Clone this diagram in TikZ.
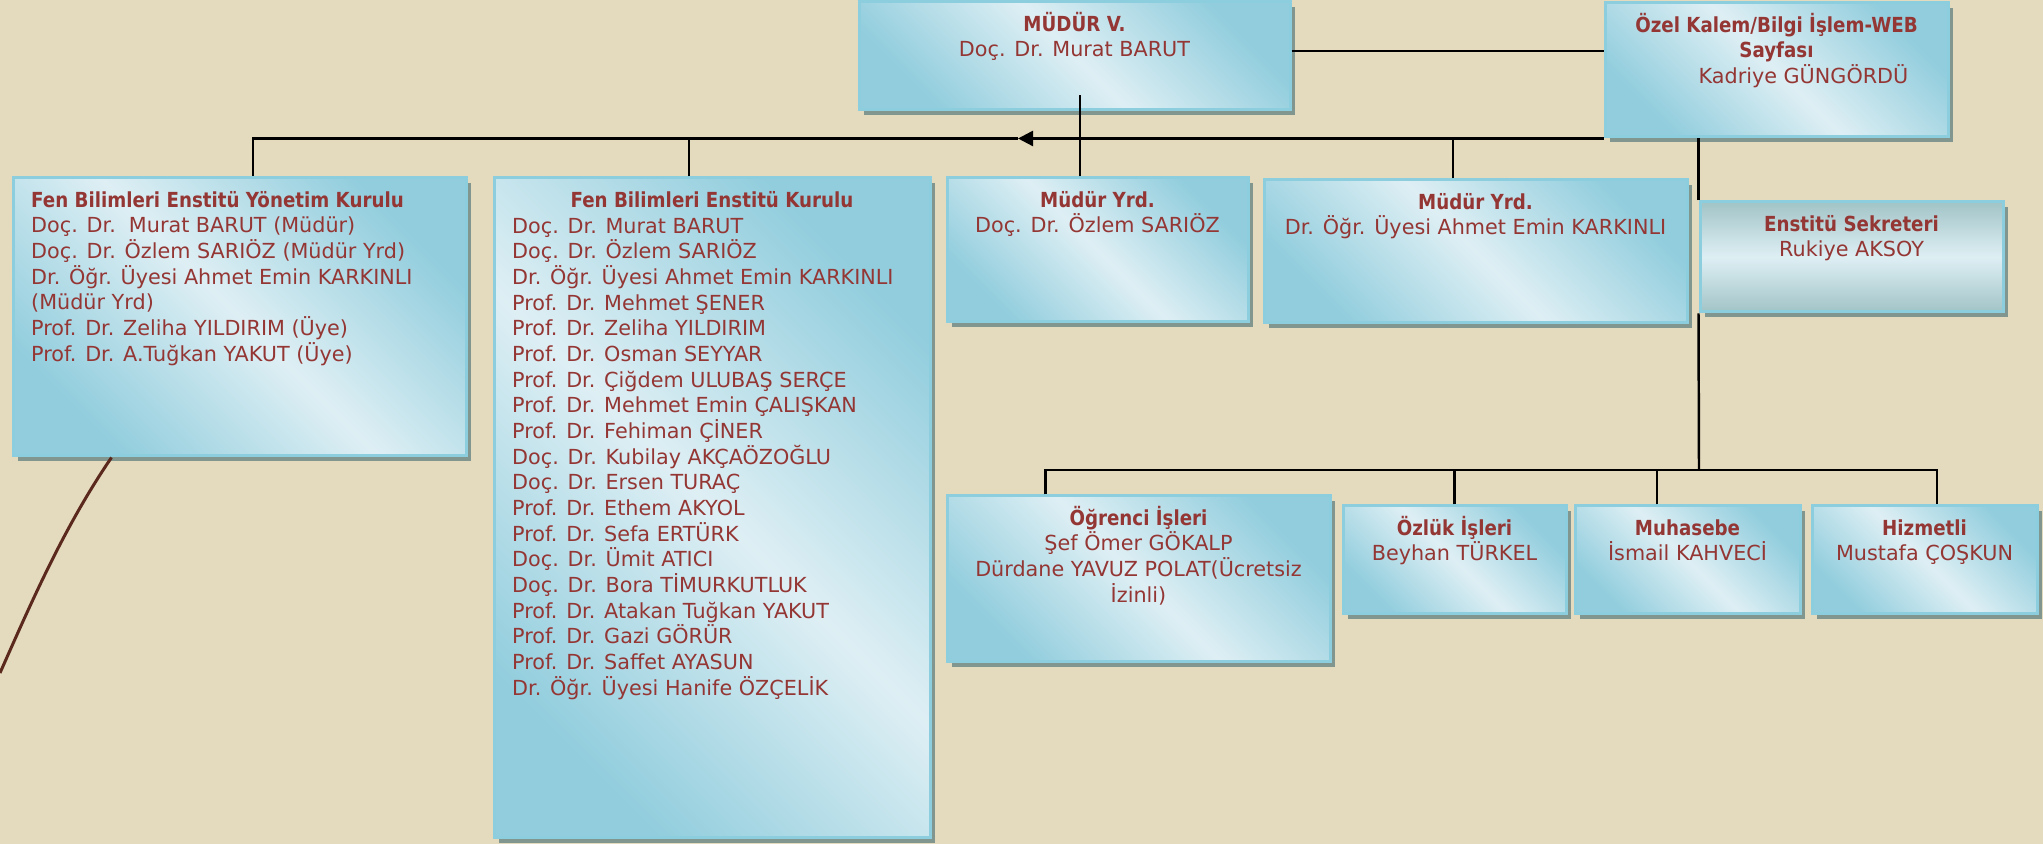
\documentclass[tikz,border=0pt]{standalone}
\usepackage{fontspec}
\setmainfont{DejaVu Sans}[BoldFeatures={FakeStretch=0.88}]
\usetikzlibrary{arrows.meta, positioning, shadows}
\definecolor{bgbeige}{RGB}{228,218,189}
\definecolor{boxdark}{RGB}{145,205,221}
\definecolor{boxlight}{RGB}{222,239,244}
\definecolor{secdark}{RGB}{162,196,199}
\definecolor{boxedge}{RGB}{140,205,222}
\definecolor{boxshadow}{RGB}{128,150,142}
\definecolor{txtred}{RGB}{148,54,52}
\definecolor{curvebrown}{RGB}{90,40,28}
\newcommand{\tstr}{\rule{0pt}{6pt}}

\begin{document}
\begin{tikzpicture}[font=\fontsize{5.9}{7.3}\selectfont,
  orgbox/.style={draw=boxedge, line width=0.03cm, top color=boxdark, bottom color=boxdark, middle color=boxlight, shading angle=-45, general shadow={fill=boxshadow, shadow xshift=0.05cm, shadow yshift=-0.05cm}, inner sep=0pt},
  secbox/.style={orgbox, top color=secdark, bottom color=secdark, middle color=boxlight},
  txt/.style={text=txtred, inner sep=0pt, align=center},
  txtl/.style={txt, align=left},
  conn/.style={draw=black, line width=0.7pt}]
\useasboundingbox (0,0) rectangle (20.43,-8.44);
\fill[bgbeige] (0,0) rectangle (20.43,-8.44);

\node[orgbox, minimum width=4.31cm, minimum height=1.08cm] (mudur) at (10.745,-0.56) {};
\node[orgbox, minimum width=3.43cm, minimum height=1.34cm] (kalem) at (17.765,-0.70) {};
\node[secbox, minimum width=3.03cm, minimum height=1.10cm] (sekreter) at (18.515,-2.57) {};
\node[orgbox, minimum width=4.53cm, minimum height=2.78cm] (yonetim) at (2.395,-3.17) {};
\node[orgbox, minimum width=4.36cm, minimum height=6.60cm] (kurul) at (7.12,-5.08) {};
\node[orgbox, minimum width=3.01cm, minimum height=1.44cm] (yrdA) at (10.975,-2.50) {};
\node[orgbox, minimum width=4.23cm, minimum height=1.43cm] (yrdB) at (14.755,-2.515) {};
\node[orgbox, minimum width=3.83cm, minimum height=1.66cm] (ogrenci) at (11.385,-5.79) {};
\node[orgbox, minimum width=2.23cm, minimum height=1.08cm] (ozluk) at (14.545,-5.60) {};
\node[orgbox, minimum width=2.25cm, minimum height=1.08cm] (muhasebe) at (16.875,-5.60) {};
\node[orgbox, minimum width=2.25cm, minimum height=1.08cm] (hizmetli) at (19.245,-5.60) {};

\node[txt, below=0.09cm of mudur.north] (mudurtxt) {\tstr\textbf{MÜDÜR V.}\\Doç. Dr. Murat BARUT};
\node[txt, below=0.09cm of kalem.north] (kalemtxt) {\tstr\textbf{Özel Kalem/Bilgi İşlem-WEB}\\\textbf{Sayfası}\\\hspace*{0.54cm}Kadriye GÜNGÖRDÜ};
\node[txt, below=0.09cm of sekreter.north] (sekretertxt) {\tstr\textbf{Enstitü Sekreteri}\\Rukiye AKSOY};
\node[txtl, below right=0.09cm and 0.19cm of yonetim.north west] (yonetimtxt) {\tstr\textbf{Fen Bilimleri Enstitü Yönetim Kurulu}\\Doç. Dr.\ \ Murat BARUT (Müdür)\\Doç. Dr. Özlem SARIÖZ (Müdür Yrd)\\Dr. Öğr. Üyesi Ahmet Emin KARKINLI\\(Müdür Yrd)\\Prof. Dr. Zeliha YILDIRIM (Üye)\\Prof. Dr. A.Tuğkan YAKUT (Üye)};
\node[txt, below=0.09cm of kurul.north] (kurultitle) {\tstr\textbf{Fen Bilimleri Enstitü Kurulu}};
\node[txtl, below right=0.35cm and 0.19cm of kurul.north west] (kurullist) {\tstr Doç. Dr. Murat BARUT\\Doç. Dr. Özlem SARIÖZ\\Dr. Öğr. Üyesi Ahmet Emin KARKINLI\\Prof. Dr. Mehmet ŞENER\\Prof. Dr. Zeliha YILDIRIM\\Prof. Dr. Osman SEYYAR\\Prof. Dr. Çiğdem ULUBAŞ SERÇE\\Prof. Dr. Mehmet Emin ÇALIŞKAN\\Prof. Dr. Fehiman ÇİNER\\Doç. Dr. Kubilay AKÇAÖZOĞLU\\Doç. Dr. Ersen TURAÇ\\Prof. Dr. Ethem AKYOL\\Prof. Dr. Sefa ERTÜRK\\Doç. Dr. Ümit ATICI\\Doç. Dr. Bora TİMURKUTLUK\\Prof. Dr. Atakan Tuğkan YAKUT\\Prof. Dr. Gazi GÖRÜR\\Prof. Dr. Saffet AYASUN\\Dr. Öğr. Üyesi Hanife ÖZÇELİK};
\node[txt, below=0.09cm of yrdA.north] (yrdAtxt) {\tstr\textbf{Müdür Yrd.}\\Doç. Dr. Özlem SARIÖZ};
\node[txt, below=0.09cm of yrdB.north] (yrdBtxt) {\tstr\textbf{Müdür Yrd.}\\Dr. Öğr. Üyesi Ahmet Emin KARKINLI};
\node[txt, below=0.09cm of ogrenci.north] (ogrencitxt) {\tstr\textbf{Öğrenci İşleri}\\Şef Ömer GÖKALP\\Dürdane YAVUZ POLAT(Ücretsiz\\İzinli)};
\node[txt, below=0.09cm of ozluk.north] (ozluktxt) {\tstr\textbf{Özlük İşleri}\\Beyhan TÜRKEL};
\node[txt, below=0.09cm of muhasebe.north] (muhasebetxt) {\tstr\textbf{Muhasebe}\\İsmail KAHVECİ};
\node[txt, below=0.09cm of hizmetli.north] (hizmetlitxt) {\tstr\textbf{Hizmetli}\\Mustafa ÇOŞKUN};

\coordinate (arr) at (kalem.south west -| 10.18,0);
\coordinate (bus) at (16.99,-4.70);
\draw[conn] ([yshift=0.05cm]mudur.east) -- ([yshift=0.05cm]mudur.east -| kalem.west);
\draw[conn, -{Triangle[length=0.15cm, width=0.15cm]}] (kalem.south west) -- (arr);
\draw[conn] (arr) -| ([xshift=0.135cm]yonetim.north);
\draw[conn] ([xshift=-0.23cm]kurul.north) -- ([xshift=-0.23cm]kurul.north |- arr);
\draw[conn] ([xshift=-0.175cm]yrdA.north) -- ++(0,0.81);
\draw[conn] ([xshift=-0.225cm]yrdB.north) -- ([xshift=-0.225cm]yrdB.north |- arr);
\draw[conn] (sekreter.north west) -- (sekreter.north west |- kalem.south);
\draw[conn] (sekreter.south west) -- (bus);
\draw[conn] ([xshift=-0.93cm]ogrenci.north) |- ([xshift=0.125cm]hizmetli.north |- bus) -- ([xshift=0.125cm]hizmetli.north);
\draw[conn] (ozluk.north) -- (ozluk.north |- bus);
\draw[conn] ([xshift=-0.305cm]muhasebe.north) -- ([xshift=-0.305cm]muhasebe.north |- bus);

\draw[curvebrown, line width=0.03cm] ([xshift=1.0cm]yonetim.south west) .. controls (0.64,-5.27) and (0.31,-6.03) .. (0,-6.73);
\end{tikzpicture}
\end{document}
